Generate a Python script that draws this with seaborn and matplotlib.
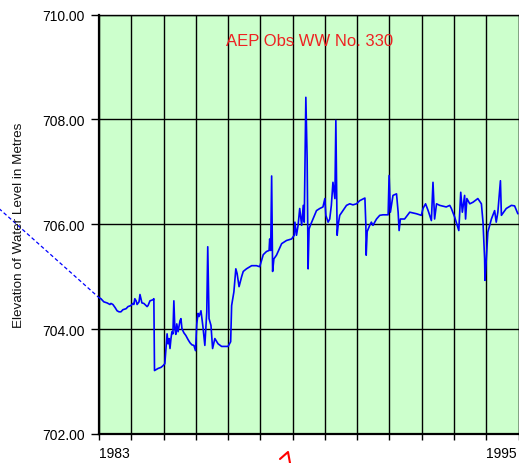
import matplotlib
matplotlib.use("Agg")
import matplotlib.pyplot as plt
from matplotlib.lines import Line2D
import seaborn as sns
import pandas as pd
import numpy as np

# ---- data (decimal year, elevation in metres) ----
years = [
    1983.00, 1983.06, 1983.15, 1983.25, 1983.34, 1983.37, 1983.43, 1983.50, 1983.56, 1983.62,
    1983.68, 1983.74, 1983.84, 1983.90, 1983.99, 1984.05, 1984.08, 1984.11, 1984.15, 1984.18,
    1984.24, 1984.27, 1984.30, 1984.33, 1984.39, 1984.46, 1984.49, 1984.52, 1984.58, 1984.67,
    1984.70, 1984.72, 1984.83, 1984.92, 1984.98, 1985.04, 1985.11, 1985.14, 1985.17, 1985.20,
    1985.23, 1985.26, 1985.29, 1985.32, 1985.35, 1985.38, 1985.41, 1985.45, 1985.48, 1985.51,
    1985.54, 1985.57, 1985.63, 1985.69, 1985.76, 1985.82, 1985.88, 1985.94, 1985.99, 1986.03,
    1986.07, 1986.10, 1986.16, 1986.22, 1986.28, 1986.31, 1986.34, 1986.37, 1986.41, 1986.47,
    1986.52, 1986.59, 1986.69, 1986.80, 1987.00, 1987.08, 1987.11, 1987.18, 1987.24, 1987.28,
    1987.34, 1987.42, 1987.47, 1987.57, 1987.73, 1987.88, 1987.98, 1988.09, 1988.19, 1988.27,
    1988.29, 1988.32, 1988.35, 1988.38, 1988.42, 1988.50, 1988.66, 1988.81, 1988.97, 1989.05,
    1989.07, 1989.12, 1989.17, 1989.22, 1989.28, 1989.33, 1989.36, 1989.41, 1989.45, 1989.48,
    1989.51, 1989.55, 1989.63, 1989.74, 1989.84, 1989.94, 1990.00, 1990.03, 1990.10, 1990.15,
    1990.20, 1990.25, 1990.31, 1990.34, 1990.38, 1990.41, 1990.46, 1990.56, 1990.67, 1990.77,
    1990.87, 1990.98, 1991.08, 1991.24, 1991.27, 1991.28, 1991.31, 1991.39, 1991.44, 1991.49,
    1991.60, 1991.70, 1991.80, 1991.96, 1991.99, 1992.03, 1992.11, 1992.22, 1992.27, 1992.30,
    1992.34, 1992.47, 1992.63, 1992.84, 1992.99, 1993.04, 1993.12, 1993.20, 1993.30, 1993.35,
    1993.40, 1993.46, 1993.56, 1993.76, 1993.87, 1993.92, 1994.02, 1994.15, 1994.21, 1994.26,
    1994.33, 1994.36, 1994.40, 1994.49, 1994.59, 1994.74, 1994.85, 1994.90, 1994.95, 1994.96,
    1995.00, 1995.05, 1995.16, 1995.26, 1995.31, 1995.36, 1995.44, 1995.47, 1995.62, 1995.78,
    1995.88, 1995.98,
]
elevation = [
    704.60, 704.58, 704.52, 704.50, 704.47, 704.49, 704.47, 704.41, 704.35, 704.33,
    704.33, 704.37, 704.39, 704.43, 704.45, 704.49, 704.47, 704.58, 704.54, 704.47,
    704.52, 704.66, 704.58, 704.50, 704.49, 704.45, 704.43, 704.45, 704.54, 704.56,
    704.58, 703.21, 703.25, 703.27, 703.30, 703.34, 703.91, 703.72, 703.82, 703.63,
    703.82, 703.95, 703.91, 704.54, 704.01, 703.90, 704.10, 703.95, 704.05, 704.16,
    704.20, 704.01, 703.93, 703.88, 703.80, 703.74, 703.70, 703.69, 703.59, 704.10,
    704.30, 704.24, 704.35, 704.05, 703.69, 704.01, 704.33, 705.57, 704.20, 704.07,
    703.63, 703.82, 703.72, 703.67, 703.67, 703.76, 704.45, 704.71, 705.15, 705.06,
    704.81, 705.00, 705.10, 705.15, 705.21, 705.21, 705.19, 705.42, 705.48, 705.50,
    705.72, 705.50, 706.92, 705.10, 705.34, 705.41, 705.63, 705.69, 705.72, 705.79,
    706.04, 705.79, 705.98, 706.30, 705.98, 706.36, 706.04, 708.42, 707.25, 705.15,
    705.91, 705.98, 706.10, 706.26, 706.30, 706.33, 706.49, 706.17, 706.04, 706.10,
    706.36, 706.80, 706.49, 707.98, 705.79, 705.98, 706.17, 706.26, 706.36, 706.39,
    706.37, 706.39, 706.45, 706.50, 705.98, 705.41, 705.86, 705.98, 706.04, 705.98,
    706.10, 706.17, 706.18, 706.18, 706.93, 706.23, 706.55, 706.58, 706.23, 705.88,
    706.10, 706.10, 706.23, 706.20, 706.17, 706.30, 706.39, 706.26, 706.07, 706.80,
    706.10, 706.39, 706.36, 706.33, 706.36, 706.30, 706.14, 705.88, 706.61, 706.23,
    706.55, 706.10, 706.49, 706.39, 706.42, 706.49, 706.39, 706.04, 705.34, 704.93,
    705.31, 705.85, 706.10, 706.26, 706.04, 706.23, 706.83, 706.17, 706.30, 706.36,
    706.35, 706.20,
]
# dashed lead-in from an earlier reading outside the plotted range
lead_years = [1979.90, 1983.00]
lead_elevation = [706.30, 704.60]

year_ticks = list(range(1983, 1997))
year_labels = ["1983"] + [""] * 11 + ["1995", ""]
elev_ticks = [702.0, 704.0, 706.0, 708.0, 710.0]

title = "AEP Obs WW No. 330"
ylabel = "Elevation of Water Level in Metres"

df = pd.DataFrame({"year": years, "elevation": elevation})

sns.set_style("white")
plt.rcParams["font.family"] = ["Liberation Sans", "DejaVu Sans"]

W, H = 519, 464
fig = plt.figure(figsize=(W / 100, H / 100), dpi=100)
ax = fig.add_axes([99 / W, (H - 435) / H, 419.5 / W, 419.5 / H])
ax.set_facecolor("#CCFFCC")

sns.lineplot(data=df, x="year", y="elevation", sort=False, estimator=None,
             color="#0000FF", linewidth=1.2, ax=ax, zorder=3)
ax.plot(lead_years, lead_elevation, color="#0000FF", linewidth=0.9,
        linestyle=(0, (3, 2)), clip_on=False, zorder=3)

ax.set_xlim(1983, 1996)
ax.set_ylim(702, 710)
ax.set_xticks(year_ticks)
ax.set_xticklabels(year_labels, ha="left")
ax.set_yticks(elev_ticks)
ax.set_yticklabels([f"{v:.2f}" for v in elev_ticks])
ax.set_xlabel("")
ax.set_ylabel("")

ax.grid(True, color="black", linewidth=1.0, zorder=1)
ax.set_axisbelow(True)
ax.tick_params(axis="y", direction="out", length=6, width=1, pad=4,
               labelsize=10, colors="black", left=True)
ax.tick_params(axis="x", direction="out", length=4.5, width=1, pad=4,
               labelsize=10, colors="black", bottom=True)
for s in ["left", "bottom"]:
    ax.spines[s].set_color("black")
    ax.spines[s].set_linewidth(1.6)
for s in ["top", "right"]:
    ax.spines[s].set_color("black")
    ax.spines[s].set_linewidth(1.0)

fig.text(19 / W, 1 - 225 / H, ylabel, rotation=90, ha="center", va="center",
         fontsize=9.7, color="#111111")
fig.text(310 / W, 1 - 41 / H, title, ha="center", va="center",
         fontsize=12, color="#EE2222")

# small red cursor mark under the axis
fig.add_artist(Line2D([280 / W, 288 / W, 290 / W],
                      [1 - 460 / H, 1 - 453 / H, 1 - 464 / H],
                      transform=fig.transFigure, color="#FF0000", linewidth=1.5))

fig.savefig("out.png", dpi=100)
